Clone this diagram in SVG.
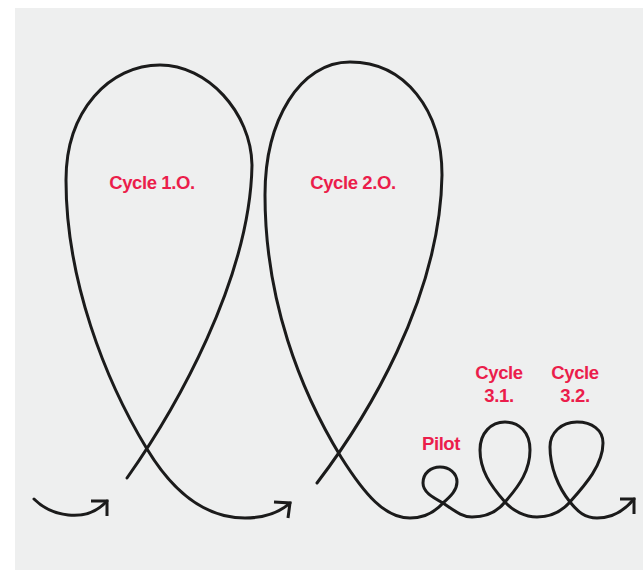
<svg xmlns="http://www.w3.org/2000/svg" width="643" height="571" viewBox="0 0 643 571">
  <style>
    .line { fill: none; stroke: #1b1b1b; stroke-width: 3; stroke-linecap: round; stroke-linejoin: round; }
    .head { fill: none; stroke: #1b1b1b; stroke-width: 3; stroke-linecap: butt; stroke-linejoin: miter; }
    .label { font-family: "Liberation Sans", Arial, sans-serif; font-weight: bold; font-size: 18.5px; letter-spacing: -0.4px; fill: #eb1d4b; text-anchor: middle; }
  </style>
  <rect x="0" y="0" width="643" height="571" fill="#ffffff"/>
  <rect x="15" y="8" width="628" height="562" fill="#eeefef"/>

  <g id="connectors">
    <!-- lead-in arrow -->
    <path class="line" d="M34,499 C50,515 85,525 107,501"/>
    <polyline class="head" points="91,501 107,501 107,516"/>

    <!-- first big loop -->
    <path class="line" d="M127,478 C175,410 250,280 252,165 C251,112 207,65 160,65 C110,65 66,110 66,180 C66,280 105,380 147,449 C176,497 210,518 245,518 C265,518 280,512 290,503"/>
    <polyline class="head" points="274,502 290,503 288,518"/>

    <!-- second big loop, then the small loops -->
    <path class="line" d="M317,483 C365,420 440,300 442,175 C442,110 405,62 350,62 C300,62 265,120 265,195 C265,300 300,390 341,457 C365,495 385,518 410,518 C425,518 435,512 443,503 C451,496 457,490 457,482 C457,473 449,467 440,467 C431,467 423,473 423,483 C423,492 432,497 443,503 C455,511 462,517 472,517 C485,517 497,512 505,502 C520,485 530,470 530,450 C530,432 519,422 505,422 C491,422 480,433 480,450 C480,470 490,485 505,502 C513,511 525,517 537,517 C550,517 562,511 570,502 C585,485 603,465 603,443 C603,430 592,422 577,422 C561,422 550,433 550,447 C550,467 558,487 570,502 C578,512 585,518 597,518 C612,518 625,510 634,499"/>
    <polyline class="head" points="620,499 634,499 634,514"/>
  </g>

  <g id="cycle-1">
    <text class="label" x="152" y="189">Cycle 1.O.</text>
  </g>
  <g id="cycle-2">
    <text class="label" x="353" y="189">Cycle 2.O.</text>
  </g>
  <g id="pilot">
    <text class="label" x="441" y="450">Pilot</text>
  </g>
  <g id="cycle-3-1">
    <text class="label" x="499" y="379">Cycle</text>
    <text class="label" x="499" y="402">3.1.</text>
  </g>
  <g id="cycle-3-2">
    <text class="label" x="575" y="379">Cycle</text>
    <text class="label" x="575" y="402">3.2.</text>
  </g>
</svg>
